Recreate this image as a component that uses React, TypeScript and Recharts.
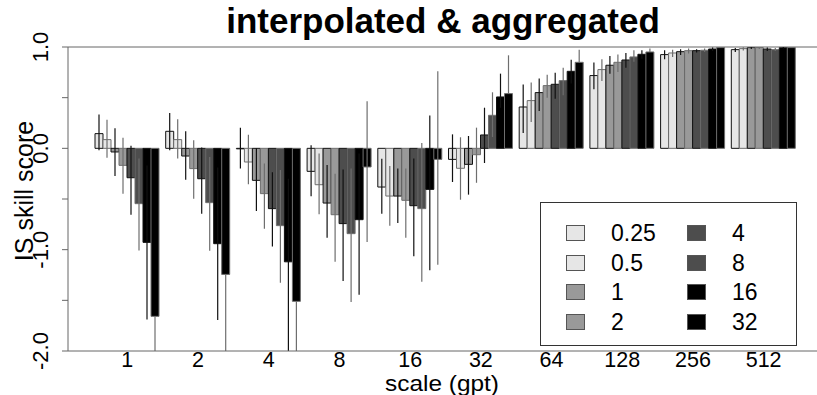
import React from 'react';
import { BarChart, Bar, XAxis, YAxis, ErrorBar, ReferenceLine, Legend } from 'recharts';

const scales = ['1', '2', '4', '8', '16', '32', '64', '128', '256', '512'];
const thresholds = ['0.25', '0.5', '1', '2', '4', '8', '16', '32'];
const fills = ['#e6e6e6', '#e6e6e6', '#999999', '#999999', '#4d4d4d', '#4d4d4d', '#000000', '#000000'];
const edges = ['#111111', '#6e6e6e', '#111111', '#6e6e6e', '#111111', '#6e6e6e', '#111111', '#6e6e6e'];
const yTicks = [-2, -1.5, -1, -0.5, 0, 0.5, 1];

// skill score per threshold, one value per scale
const score025 = [0.145, 0.168, -0.005, -0.227, -0.382, -0.109, 0.408, 0.718, 0.925, 0.974];
const score05 = [0.086, 0.086, -0.135, -0.359, -0.471, -0.197, 0.471, 0.777, 0.941, 0.984];
const score1 = [-0.036, -0.076, -0.316, -0.54, -0.471, -0.158, 0.55, 0.82, 0.954, 0.994];
const score2 = [-0.168, -0.2, -0.447, -0.655, -0.513, -0.063, 0.619, 0.849, 0.964, 0.994];
const score4 = [-0.29, -0.3, -0.595, -0.743, -0.566, 0.132, 0.632, 0.872, 0.964, 0.98];
const score8 = [-0.546, -0.536, -0.763, -0.842, -0.595, 0.326, 0.668, 0.902, 0.968, 0.974];
const score16 = [-0.928, -0.941, -1.12, -0.704, -0.405, 0.507, 0.76, 0.928, 0.98, 0.994];
const score32 = [-1.658, -1.244, -1.51, -0.184, -0.109, 0.54, 0.849, 0.951, 0.994, 0.994];

// lower ends of the uncertainty bars
const low025 = [-0.02, -0.02, -0.2, -0.474, -0.645, -0.332, 0.151, 0.582, 0.879, 0.95];
const low05 = [-0.092, -0.1, -0.355, -0.65, -0.763, -0.507, 0.259, 0.665, 0.902, 0.965];
const low1 = [-0.273, -0.31, -0.619, -0.882, -0.737, -0.457, 0.369, 0.737, 0.92, 0.98];
const low2 = [-0.447, -0.497, -0.793, -1.12, -0.882, -0.34, 0.5, 0.753, 0.935, 0.98];
const low4 = [-0.655, -0.645, -0.968, -1.31, -1.066, -0.145, 0.49, 0.796, 0.945, 0.96];
const low8 = [-1.007, -1.01, -1.326, -1.517, -1.316, 0.112, 0.523, 0.855, 0.95, 0.96];
const low16 = [-1.69, -1.695, -2.0, -1.445, -1.204, 0.4, 0.639, 0.885, 0.96, 0.985];
const low32 = [-2.0, -2.0, -2.0, -0.925, -1.148, 0.54, 0.849, 0.951, 0.994, 0.994];

// upper ends of the uncertainty bars
const high025 = [0.335, 0.349, 0.204, 0.03, -0.102, 0.138, 0.629, 0.846, 0.968, 0.99];
const high05 = [0.283, 0.286, 0.135, -0.05, -0.175, 0.109, 0.649, 0.879, 0.974, 0.998];
const high1 = [0.197, 0.168, 0.0, -0.165, -0.2, 0.122, 0.688, 0.912, 0.978, 1.0];
const high2 = [0.105, 0.079, -0.15, -0.25, -0.2, 0.204, 0.727, 0.925, 0.984, 1.0];
const high4 = [0.026, 0.007, -0.237, -0.21, -0.1, 0.401, 0.747, 0.941, 0.978, 0.995];
const high8 = [-0.1, -0.086, -0.214, -0.2, 0.053, 0.553, 0.796, 0.968, 0.985, 0.99];
const high16 = [-0.17, -0.19, -0.3, -0.05, 0.323, 0.737, 0.875, 0.968, 0.995, 1.0];
const high32 = [-1.658, -1.244, -1.51, 0.464, 0.76, 0.918, 0.974, 0.984, 1.0, 1.0];

const scores = [score025, score05, score1, score2, score4, score8, score16, score32];
const lows = [low025, low05, low1, low2, low4, low8, low16, low32];
const highs = [high025, high05, high1, high2, high4, high8, high16, high32];

const data = scales.map((scale, i) => {
  const row: Record<string, any> = { scale };
  thresholds.forEach((_, k) => {
    const v = scores[k][i];
    row[`s${k}`] = v;
    row[`e${k}`] = [v - lows[k][i], highs[k][i] - v];
  });
  return row;
});

const font = '"Liberation Sans", Arial, Helvetica, sans-serif';

const YTick = (props: any) => {
  const { y, payload } = props;
  const v = payload.value;
  if (!Number.isInteger(v)) return <g />;
  return (
    <text x={48} y={y} transform={`rotate(-90, 48, ${y})`} textAnchor="middle" fontSize={22} fill="#000">
      {v.toFixed(1)}
    </text>
  );
};

const YLabel = () => (
  <text x={33} y={191} transform="rotate(-90, 33, 191)" textAnchor="middle" fontSize={25} fill="#000">
    IS skill score
  </text>
);

const XTick = (props: any) => {
  const { x, payload } = props;
  return (
    <text x={x} y={366.5} textAnchor="middle" fontSize={21.5} fill="#000">
      {payload.value}
    </text>
  );
};

const XLabel = () => (
  <text
    x={442}
    y={391.3}
    textAnchor="middle"
    fontSize={22}
    fill="#000"
    textLength={114}
    lengthAdjust="spacingAndGlyphs"
  >
    scale (gpt)
  </text>
);

const LegendBox = () => (
  <div
    style={{
      width: 257,
      height: 144,
      border: '1px solid #333',
      background: '#fff',
      position: 'relative',
      boxSizing: 'border-box',
    }}
  >
    {thresholds.map((t, k) => {
      const col = Math.floor(k / 4);
      const row = k % 4;
      const left = col ? 146 : 25;
      const top = 22 + row * 29.5;
      return (
        <React.Fragment key={t}>
          <div
            style={{
              position: 'absolute',
              left,
              top,
              width: 19,
              height: 16,
              background: fills[k],
              border: '1px solid #555',
              boxSizing: 'border-box',
            }}
          />
          <div style={{ position: 'absolute', left: left + 45, top: top - 4, fontSize: 23, lineHeight: '24px', color: '#000' }}>
            {t}
          </div>
        </React.Fragment>
      );
    })}
  </div>
);

const App = () => {
  return (
    <div
      style={{
        position: 'fixed',
        left: 0,
        top: 0,
        width: 817,
        height: 395,
        background: '#fff',
        overflow: 'hidden',
        fontFamily: font,
      }}
    >
      <BarChart
        width={817}
        height={395}
        data={data}
        margin={{ top: 47, right: 0, bottom: 0, left: 0 }}
        barCategoryGap={3}
        barGap={0}
      >
        <XAxis
          dataKey="scale"
          height={44}
          padding={{ left: 24, right: 18 }}
          interval={0}
          tickLine={false}
          tickSize={0}
          tickMargin={2}
          axisLine={{ stroke: '#666' }}
          tick={XTick}
          label={{ content: XLabel }}
        />
        <YAxis
          width={68}
          domain={[-2, 1]}
          ticks={yTicks}
          allowDataOverflow
          tickSize={6}
          tickLine={{ stroke: '#666' }}
          axisLine={{ stroke: '#666' }}
          tick={YTick}
          label={{ content: YLabel }}
        />
        <ReferenceLine y={1} stroke="#666" />
        {thresholds.map((t, k) => (
          <Bar
            key={t}
            dataKey={`s${k}`}
            name={t}
            fill={fills[k]}
            stroke={edges[k]}
            strokeWidth={1}
            isAnimationActive={false}
          >
            <ErrorBar dataKey={`e${k}`} width={0} stroke={edges[k]} strokeWidth={1.2} />
          </Bar>
        ))}
        <Legend
          layout="horizontal"
          verticalAlign="middle"
          align="center"
          wrapperStyle={{ left: 540, top: 202, width: 257, height: 144 }}
          content={LegendBox}
        />
      </BarChart>
      <div
        style={{
          position: 'absolute',
          left: 0,
          top: 1,
          width: 886,
          textAlign: 'center',
          fontSize: 35,
          fontWeight: 'bold',
          lineHeight: '40px',
          color: '#000',
        }}
      >
        {'interpolated & aggregated'}
      </div>
    </div>
  );
};

export default App;
